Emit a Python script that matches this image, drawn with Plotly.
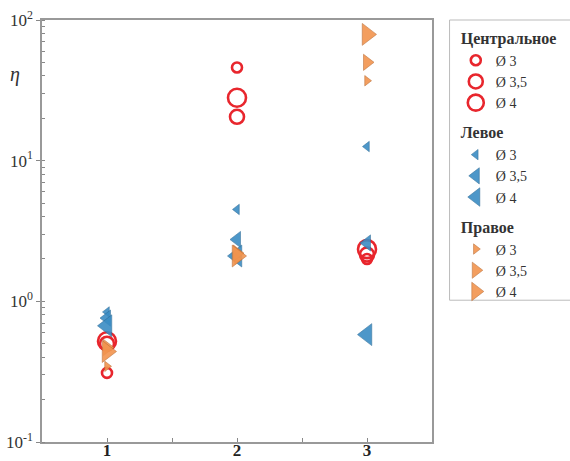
import plotly.graph_objects as go

categories = [1, 2, 3]

central_d3 = [0.31, 46, 2.0]
central_d35 = [0.50, 20.5, 2.15]
central_d4 = [0.52, 28, 2.35]

left_d3 = [0.84, 4.5, 12.6]
left_d35 = [0.76, 2.75, 2.6]
left_d4 = [0.67, 2.1, 0.58]

right_d3 = [0.345, 2.0, 37]
right_d35 = [0.47, 2.2, 50]
right_d4 = [0.44, 2.1, 79]

labels = ["Ø 3", "Ø 3,5", "Ø 4"]
group_titles = ["Центральное", "Левое", "Правое"]

RED = "#E8262D"
BLUE = "#3A8CC4"
ORANGE = "#F2944E"
FONT = "Liberation Serif"

fig = go.Figure()

circle_sizes = [10, 14, 18]
tri_sizes = [9, 14, 19]

def gtitle(t):
    return dict(text="<b>" + t + "</b>", font=dict(family=FONT, size=16, color="#333"))

for i, (vals, lab) in enumerate(zip([central_d3, central_d35, central_d4], labels)):
    fig.add_trace(go.Scatter(
        x=categories, y=vals, mode="markers", name=lab,
        legendgroup="c", legendgrouptitle=gtitle(group_titles[0]),
        marker=dict(symbol="circle-open", size=circle_sizes[i], color=RED, line=dict(width=2.6, color=RED)),
    ))

for i, (vals, lab) in enumerate(zip([left_d3, left_d35, left_d4], labels)):
    fig.add_trace(go.Scatter(
        x=categories, y=vals, mode="markers", name=lab,
        legendgroup="l", legendgrouptitle=gtitle(group_titles[1]),
        marker=dict(symbol="triangle-left", size=tri_sizes[i], color=BLUE, opacity=0.9,
                    line=dict(width=0.6, color="#2A6A96")),
    ))

for i, (vals, lab) in enumerate(zip([right_d3, right_d35, right_d4], labels)):
    fig.add_trace(go.Scatter(
        x=categories, y=vals, mode="markers", name=lab,
        legendgroup="r", legendgrouptitle=gtitle(group_titles[2]),
        marker=dict(symbol="triangle-right", size=tri_sizes[i], color=ORANGE, opacity=0.9,
                    line=dict(width=0.6, color="#B86A30")),
    ))

fig.update_layout(
    width=570, height=461,
    margin=dict(l=42, r=138, t=20, b=19, autoexpand=False),
    paper_bgcolor="white", plot_bgcolor="white",
    font=dict(family=FONT, size=16, color="#333"),
    showlegend=True,
    legend=dict(
        x=1.061, y=0.998, xanchor="left", yanchor="top",
        bgcolor="rgba(0,0,0,0)", borderwidth=0,
        font=dict(family=FONT, size=14, color="#333"),
        tracegroupgap=7, itemsizing="trace",
    ),
    xaxis=dict(
        range=[0.5, 3.5], tickvals=[1, 2, 3], ticktext=["<b>1</b>", "<b>2</b>", "<b>3</b>"],
        ticks="inside", ticklen=4, tickcolor="#888", ticklabelstandoff=-8,
        minor=dict(tickvals=[1.5, 2.5], ticks="inside", ticklen=4, tickcolor="#888"),
        showline=True, linecolor="#999", linewidth=1.5, mirror=True,
        showgrid=False, zeroline=False, automargin=False,
        tickfont=dict(family=FONT, size=17, color="#222"),
    ),
    yaxis=dict(
        type="log", range=[-1, 2],
        tickvals=[0.1, 1, 10, 100],
        ticktext=["10<sup>-1</sup>", "10<sup>0</sup>", "10<sup>1</sup>", "10<sup>2</sup>"],
        ticks="outside", ticklen=4, tickcolor="#888",
        minor=dict(ticks="inside", ticklen=3, tickcolor="#888", dtick="D1"),
        showline=True, linecolor="#999", linewidth=1.5, mirror=True,
        showgrid=False, zeroline=False, automargin=False,
        tickfont=dict(family=FONT, size=17, color="#333"),
    ),
    shapes=[dict(
        type="path", xref="paper", yref="paper", layer="below",
        path="M 1.045,1.0 L 1.5,1.0 L 1.5,0.336 L 1.045,0.336 Z",
        line=dict(color="#BBB", width=1),
    )],
    annotations=[dict(
        text="<i>η</i>", x=-0.068, y=0.87, xref="paper", yref="paper",
        xanchor="center", yanchor="middle",
        showarrow=False, font=dict(family=FONT, size=20, color="#333"),
    )],
)

fig.write_html("out.html")
